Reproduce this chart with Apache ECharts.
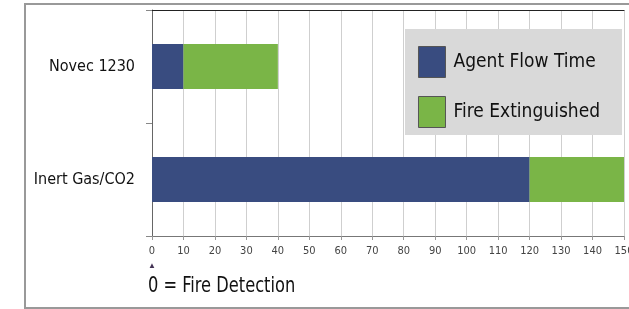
<!DOCTYPE html>
<html>
<head>
<meta charset="utf-8">
<script src="https://cdn.jsdelivr.net/npm/echarts@6/dist/echarts.min.js"></script>
<style>
  html, body { margin: 0; padding: 0; background: #fff; }
  #chart { width: 629px; height: 309px; }
</style>
</head>
<body>
<div id="chart"></div>
<script>
// categories, bottom to top
var categories = ['Inert Gas/CO2', 'Novec 1230'];
// seconds from fire detection
var agentFlowTime = [120, 10];
var fireExtinguished = [30, 30];
var xTicks = { min: 0, max: 150, step: 10 };

var narrow = '"Liberation Sans Narrow", "DejaVu Sans Condensed", Arial, sans-serif';
var chart = echarts.init(document.getElementById('chart'));

chart.setOption({
    animation: false,
    grid: { left: 152, right: 5, top: 10, bottom: 73, outerBoundsMode: 'none' },
    legend: {
        orient: 'vertical',
        right: 7,
        top: 29,
        backgroundColor: '#d9d9d9',
        padding: [17, 22, 7, 13],
        itemWidth: 27,
        itemHeight: 31,
        itemGap: 18,
        icon: 'rect',
        itemStyle: { borderColor: '#555', borderWidth: 1 },
        textStyle: { fontFamily: narrow, fontSize: 19, color: '#111', padding: [0, 0, 0, 3] },
        data: ['Agent Flow Time', 'Fire Extinguished']
    },
    xAxis: [{
        type: 'value',
        min: xTicks.min,
        max: xTicks.max,
        interval: xTicks.step,
        axisLine: { show: true, lineStyle: { color: '#777' } },
        axisTick: { show: true, length: 4, lineStyle: { color: '#999' } },
        axisLabel: { fontFamily: narrow, fontSize: 11, color: '#444', margin: 10 },
        splitLine: { show: true, lineStyle: { color: '#cfcfcf' } }
    }, {
        type: 'value',
        position: 'top',
        min: xTicks.min,
        max: xTicks.max,
        axisLine: { show: true, lineStyle: { color: '#222' } },
        axisTick: { show: false },
        axisLabel: { show: false },
        splitLine: { show: false }
    }],
    yAxis: [{
        type: 'category',
        data: categories,
        axisLine: { show: false },
        axisTick: { show: true, length: 6, lineStyle: { color: '#888' } },
        axisLabel: { fontFamily: narrow, fontSize: 16, color: '#111', margin: 17 }
    }, {
        type: 'category',
        position: 'right',
        data: categories,
        axisLine: { show: true, lineStyle: { color: '#666' } },
        axisTick: { show: false },
        axisLabel: { show: false }
    }],
    series: [{
        name: 'Agent Flow Time',
        type: 'bar',
        stack: 'time',
        barWidth: 45,
        itemStyle: { color: '#394c80' },
        data: agentFlowTime
    }, {
        name: 'Fire Extinguished',
        type: 'bar',
        stack: 'time',
        barWidth: 45,
        itemStyle: { color: '#7ab547' },
        data: fireExtinguished
    }],
    graphic: [{
        type: 'rect',
        shape: { x: 25, y: 4, width: 610, height: 304 },
        style: { fill: 'none', stroke: '#999', lineWidth: 2 },
        silent: true
    }, {
        type: 'text',
        left: 148,
        top: 262,
        style: { text: '\u25B2', fontSize: 8, fill: '#443355' }
    }, {
        type: 'text',
        x: 148,
        y: 276,
        scaleX: 0.86,
        style: { text: '0 = Fire Detection', fontFamily: narrow, fontSize: 21, fill: '#111' }
    }]
});
</script>
</body>
</html>
